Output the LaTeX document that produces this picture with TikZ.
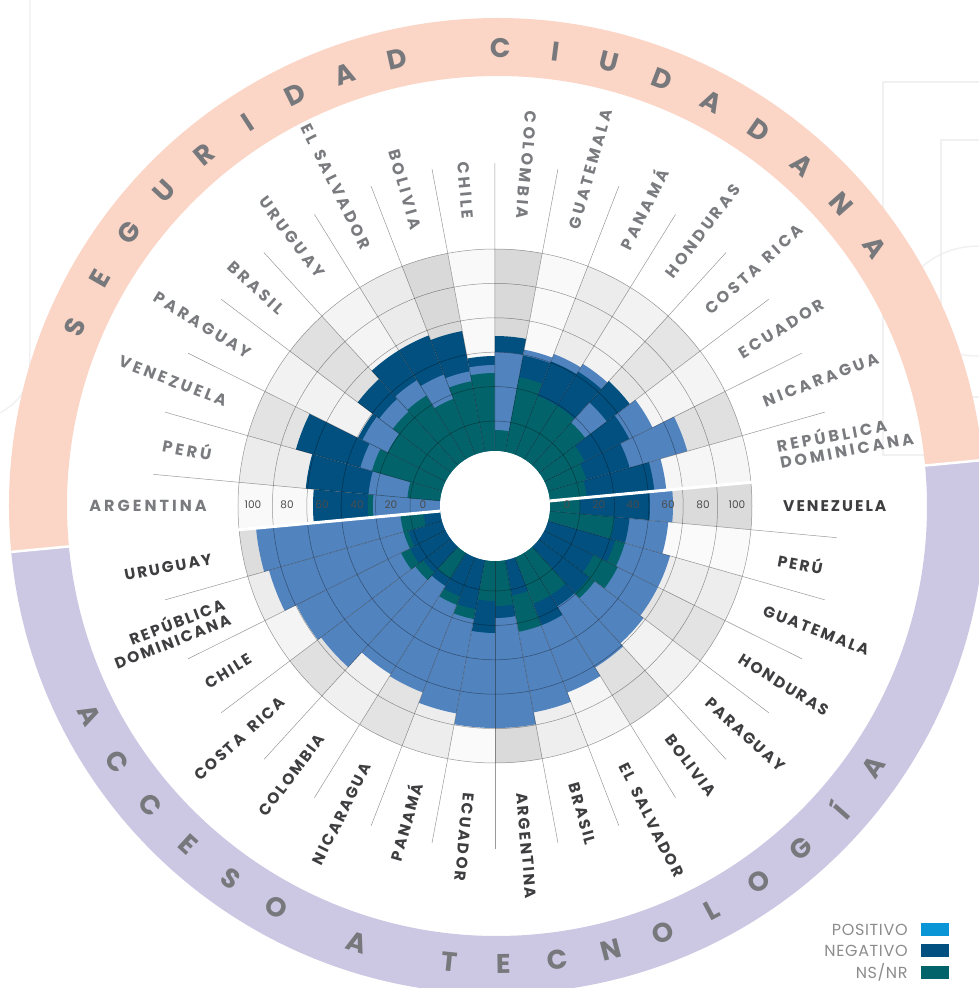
\documentclass[tikz,border=0pt]{standalone}
\usepackage{fontspec}
\setmainfont{Poppins}
\newfontfamily\segfont{Poppins}[LetterSpace=19]
\newfontfamily\tecfont{Poppins}[LetterSpace=13]
\newfontfamily\legfont{Poppins}[LetterSpace=4]
\usetikzlibrary{positioning}
\definecolor{posblue}{HTML}{5183BE}
\definecolor{negblue}{HTML}{01507F}
\definecolor{nsteal}{HTML}{02646A}
\definecolor{legpos}{HTML}{0A95D6}
\definecolor{salmon}{HTML}{FBD5C6}
\definecolor{lavender}{HTML}{CCC7E3}
\definecolor{seggray}{HTML}{7A7B7F}
\definecolor{tecgray}{HTML}{3E3E40}
\definecolor{ringtext}{HTML}{77787B}
\tikzset{
    posbar/.style = {fill=posblue},
    negbar/.style = {fill=negblue},
    nsbar/.style = {fill=nsteal},
    gridline/.style = {draw=black, opacity=0.4, line width=0.5pt},
    spoke/.style = {draw=black!40, line width=0.5pt},
    faint/.style = {draw=black!8, opacity=0.7, line width=1.5pt},
    seglabel/.style = {inner sep=0pt, text=seggray, font=\segfont\bfseries\fontsize{16}{17}\selectfont},
    teclabel/.style = {inner sep=0pt, text=tecgray, font=\tecfont\bfseries\fontsize{15.5}{16.5}\selectfont},
    ringletter/.style = {inner sep=0pt, text=ringtext, font=\bfseries\fontsize{27}{27}\selectfont},
    tick/.style = {inner sep=0pt, text=black!70, font=\fontsize{10.5}{11}\selectfont},
    swatch/.style = {rectangle, inner sep=0pt, minimum width=28pt, minimum height=13pt},
    legtext/.style = {inner sep=0pt, text=black!45, font=\legfont\fontsize{16}{16}\selectfont}
}
% annular sector: start angle, end angle, inner radius, outer radius
\newcommand{\wedgepath}[4]{(#1:#3pt) arc[start angle=#1, end angle=#2, radius=#3pt] -- (#2:#4pt) arc[start angle=#2, end angle=#1, radius=#4pt] -- cycle}
\newcommand{\wordgap}{\kern9pt\relax}
\def\w{10.588}
\def\off{5.3}
\def\rin{55}
\def\rout{257}
\begin{document}
\begin{tikzpicture}[x=1pt,y=1pt]
\useasboundingbox (-495,-482) rectangle (484,506);
% page marks behind
\draw[faint] (-465,506) -- (-465,140) to[out=-90,in=30] (-495,93);
\draw[faint] (490,424) -- (388,424) -- (388,51) -- (435,51);
\draw[faint] (490,366) -- (446,366) -- (446,109) -- (490,109);
\draw[faint] (484,260) to[out=180,in=90] (410,200) to[out=-90,in=180] (484,150);
% outer ring
\begin{scope}[shift={(2,0)}]
\fill[salmon] \wedgepath{185.4}{5.4}{430}{488};
\fill[lavender] \wedgepath{5.4}{-174.6}{430}{488};
\draw[white, line width=2.5pt] (5.4:426) -- (5.4:492) (185.4:426) -- (185.4:492);
\foreach \t [count=\k from 0] in {S,E,G,U,R,I,D,A,D}
    \node[ringletter, rotate=67-6.8*\k] (rs-\k) at ({157-6.8*\k}:458) {\t};
\foreach \t [count=\k from 0] in {C,I,U,D,A,D,A,N,A}
    \node[ringletter, rotate=-0.4-6.9*\k] (rc-\k) at ({89.6-6.9*\k}:458) {\t};
\foreach \t [count=\k from 0] in {A,C,C,E,S,O}
    \node[ringletter, rotate=297.2+6.8*\k] (ra-\k) at ({207.2+6.8*\k}:458) {\t};
\node[ringletter, rotate=342.2] (rm) at (252.2:458) {A};
\foreach \t [count=\k from 0] in {T,E,C,N,O,L,O,G,Í,A}
    \node[ringletter, rotate=354+6.8*\k] (rt-\k) at ({264+6.8*\k}:458) {\t};
\end{scope}
% seguridad ciudadana (top half)
\foreach \p/\n/\s/\g/\name [count=\i from 0] in {
    122/182/127/2.5/ARGENTINA, 127/190/88/7.5/PERÚ, 140/207/128/11/VENEZUELA,
    148/153/120/5/PARAGUAY, 145/172/128/12/BRASIL, 148/183/130/4.5/URUGUAY,
    141/183/115/8/{EL\wordgap SALVADOR}, 137/178/127/15/BOLIVIA, 141/150/133/2.5/CHILE,
    154/170/76/15/COLOMBIA, 159/153/131/2.5/GUATEMALA, 163/155/118/7.5/PANAMÁ,
    167/158/118/5/HONDURAS, 140/169/113/10/{COSTA\wordgap RICA}, 176/150/100/4.5/ECUADOR,
    200/140/95/12/NICARAGUA, 172/160/92/3.5/{REPÚBLICA\\DOMINICANA}}{
    \pgfmathsetmacro\a{180+\off-\i*\w}
    \pgfmathsetmacro\b{\a-\w}
    \pgfmathsetmacro\mid{\a-\w/2}
    \fill[black!\g] \wedgepath{\a}{\b}{\rin}{\rout};
    \foreach \k in {1,2,3}{
        \foreach \v/\c in {\p/posbar,\n/negbar,\s/nsbar}{
            \pgfmathtruncatemacro\rk{1+(\p>\v)+(\n>\v)+(\s>\v)}
            \ifnum\rk=\k \fill[\c] \wedgepath{\a}{\b}{\rin}{\v}; \fi
        }
    }
    \ifnum\i<10
        \node[seglabel, anchor=east, align=right, rotate=\mid-180] (seg-\i) at (\mid:288) {\name};
    \else
        \node[seglabel, anchor=west, align=left, rotate=\mid] (seg-\i) at (\mid:288) {\name};
    \fi
}
% acceso a tecnologia (bottom half)
\foreach \p/\n/\s/\g/\name [count=\i from 0] in {
    178/155/85/14/VENEZUELA, 174/135/120/2/PERÚ, 182/125/135/7/GUATEMALA,
    182/110/137/11/HONDURAS, 186/118/125/5/PARAGUAY, 190/118/105/12/BOLIVIA,
    200/128/105/4/{EL\wordgap SALVADOR}, 210/91/128/6.5/BRASIL, 222/112/100/14.5/ARGENTINA,
    222/127/95/2/ECUADOR, 211/105/115/7/PANAMÁ, 200/97/106/11/NICARAGUA,
    198/94/85/6/COLOMBIA, 218/90/100/12/{COSTA\wordgap RICA}, 222/95/105/4.5/CHILE,
    235/90/95/7.5/{REPÚBLICA\\DOMINICANA}, 240/72/95/13.5/URUGUAY}{
    \pgfmathsetmacro\a{\off-\i*\w}
    \pgfmathsetmacro\b{\a-\w}
    \pgfmathsetmacro\mid{\a-\w/2}
    \fill[black!\g] \wedgepath{\a}{\b}{\rin}{\rout};
    \foreach \k in {1,2,3}{
        \foreach \v/\c in {\p/posbar,\n/negbar,\s/nsbar}{
            \pgfmathtruncatemacro\rk{1+(\p>\v)+(\n>\v)+(\s>\v)}
            \ifnum\rk=\k \fill[\c] \wedgepath{\a}{\b}{\rin}{\v}; \fi
        }
    }
    \ifnum\i<10
        \node[teclabel, anchor=west, align=left, rotate=\mid] (tec-\i) at (\mid:288) {\name};
    \else
        \node[teclabel, anchor=east, align=right, rotate=\mid+180] (tec-\i) at (\mid:288) {\name};
    \fi
}
% grid
\foreach \r in {85,119.4,153.8,188.2,222.6,257}
    \draw[gridline] (0,0) circle[radius=\r];
\foreach \k in {0,...,33}{
    \pgfmathsetmacro\t{\off+\k*\w}
    \draw[gridline] (\t:\rin) -- (\t:\rout);
    \ifnum\k=0 \else \ifnum\k=17 \else
        \draw[spoke] (\t:\rout) -- (\t:343);
    \fi\fi
}
\draw[white, line width=3pt] (185.3:\rin) -- (185.3:259) (5.3:\rin) -- (5.3:259);
\fill[white] (0,0) circle[radius=\rin];
% scale
\foreach \r/\t [count=\j] in {72/0,104/20,138/40,173/60,208/80,242/100}{
    \node[tick] (tl-\j) at (-\r,1) {\t};
    \node[tick] (tr-\j) at (\r,1) {\t};
}
% legend
\node[swatch, fill=legpos] (swpos) at (440,-423.5) {};
\node[swatch, fill=negblue, below=8pt of swpos] (swneg) {};
\node[swatch, fill=nsteal, below=8pt of swneg] (swns) {};
\node[legtext, left=13pt of swpos] (lgpos) {POSITIVO};
\node[legtext, left=13pt of swneg] (lgneg) {NEGATIVO};
\node[legtext, left=13pt of swns] (lgns) {NS/NR};
\end{tikzpicture}
\end{document}
